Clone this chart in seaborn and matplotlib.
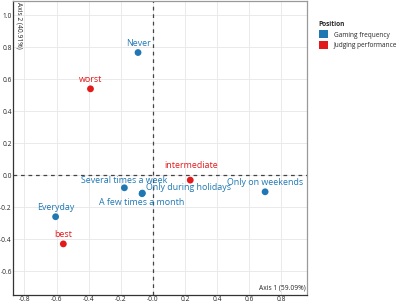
import numpy as np
import pandas as pd
import matplotlib
matplotlib.use("Agg")
import matplotlib.pyplot as plt
import seaborn as sns
from matplotlib.patches import Patch

sns.set_theme(style="whitegrid")
plt.rcParams['font.family'] = ['Open Sans', 'DejaVu Sans']

# Correspondence analysis coordinates
labels = ['Never', 'Several times a week', 'A few times a month', 'Only during holidays',
          'Everyday', 'Only on weekends', 'worst', 'intermediate', 'best']
axis1 = [-0.093, -0.178, -0.068, -0.066, -0.606, 0.698, -0.389, 0.232, -0.558]
axis2 = [0.767, -0.079, -0.116, -0.112, -0.260, -0.104, 0.540, -0.031, -0.430]
group = ['Gaming frequency'] * 6 + ['Judging performance'] * 3

# label offsets (points), mimicking repelled labels
offsets = {
    'Never': (0, 6.7), 'Several times a week': (0, 5.5), 'A few times a month': (0, -6),
    'Only during holidays': (33, 4), 'Everyday': (0, 6.8), 'Only on weekends': (0, 6.7),
    'worst': (0, 6.7), 'intermediate': (0.7, 10.4), 'best': (0, 7),
}

df = pd.DataFrame({'label': labels, 'x': axis1, 'y': axis2, 'group': group})
palette = {'Gaming frequency': '#1f78b4', 'Judging performance': '#e31a1c'}

fig = plt.figure(figsize=(4.0, 3.02), dpi=100)
ax = fig.add_axes([0.033, 0.023, 0.735, 0.974])

ax.axhline(0, color='#444444', ls=(0, (3, 3)), lw=0.9, zorder=1)
ax.axvline(0, color='#444444', ls=(0, (3, 3)), lw=0.9, zorder=1)

sns.scatterplot(data=df, x='x', y='y', hue='group', palette=palette, s=24,
                edgecolor='none', legend=False, ax=ax, zorder=3)

for _, r in df.iterrows():
    dx, dy = offsets[r['label']]
    ax.annotate(r['label'], (r['x'], r['y']), xytext=(dx, dy), textcoords='offset points',
                ha='center', va='center', fontsize=6.4, color=palette[r['group']])

ax.set_xlim(-0.87, 0.96)
ax.set_ylim(-0.75, 1.09)
ax.set_xticks(np.arange(-0.8, 0.81, 0.2))
ax.set_yticks(np.arange(-0.6, 1.01, 0.2))
ax.set_xticklabels([f'{v:.1f}' for v in np.arange(-0.8, 0.81, 0.2)])
ax.set_yticklabels([f'{v:.1f}' for v in np.arange(-0.6, 1.01, 0.2)])
ax.tick_params(labelsize=4.8, pad=1, length=0)
ax.set_xlabel('')
ax.set_ylabel('')
ax.grid(True, color='#e6e6e6', lw=0.6)
ax.set_facecolor('white')
for side in ['left', 'bottom']:
    ax.spines[side].set_color('#333333')
    ax.spines[side].set_linewidth(0.9)
for side in ['right', 'top']:
    ax.spines[side].set_color('#999999')
    ax.spines[side].set_linewidth(0.9)

ax.text(0.995, 0.012, 'Axis 1 (59.09%)', transform=ax.transAxes, ha='right', va='bottom',
        fontsize=4.8, color='#222222')
ax.text(0.008, 0.995, 'Axis 2 (40.91%)', transform=ax.transAxes, ha='left', va='top',
        rotation=270, fontsize=4.8, color='#222222')

handles = [Patch(facecolor=palette[g], edgecolor='none', label=g) for g in palette]
leg = fig.legend(handles=handles, title='Position', loc='upper left', bbox_to_anchor=(0.785, 0.945),
                 frameon=False, fontsize=4.7, title_fontsize=4.7, handlelength=1.4, handleheight=1.5,
                 handletextpad=0.9, labelspacing=0.35, alignment='left', borderpad=0.2)
leg.get_title().set_fontweight('bold')

fig.savefig('out.png', dpi=100)
